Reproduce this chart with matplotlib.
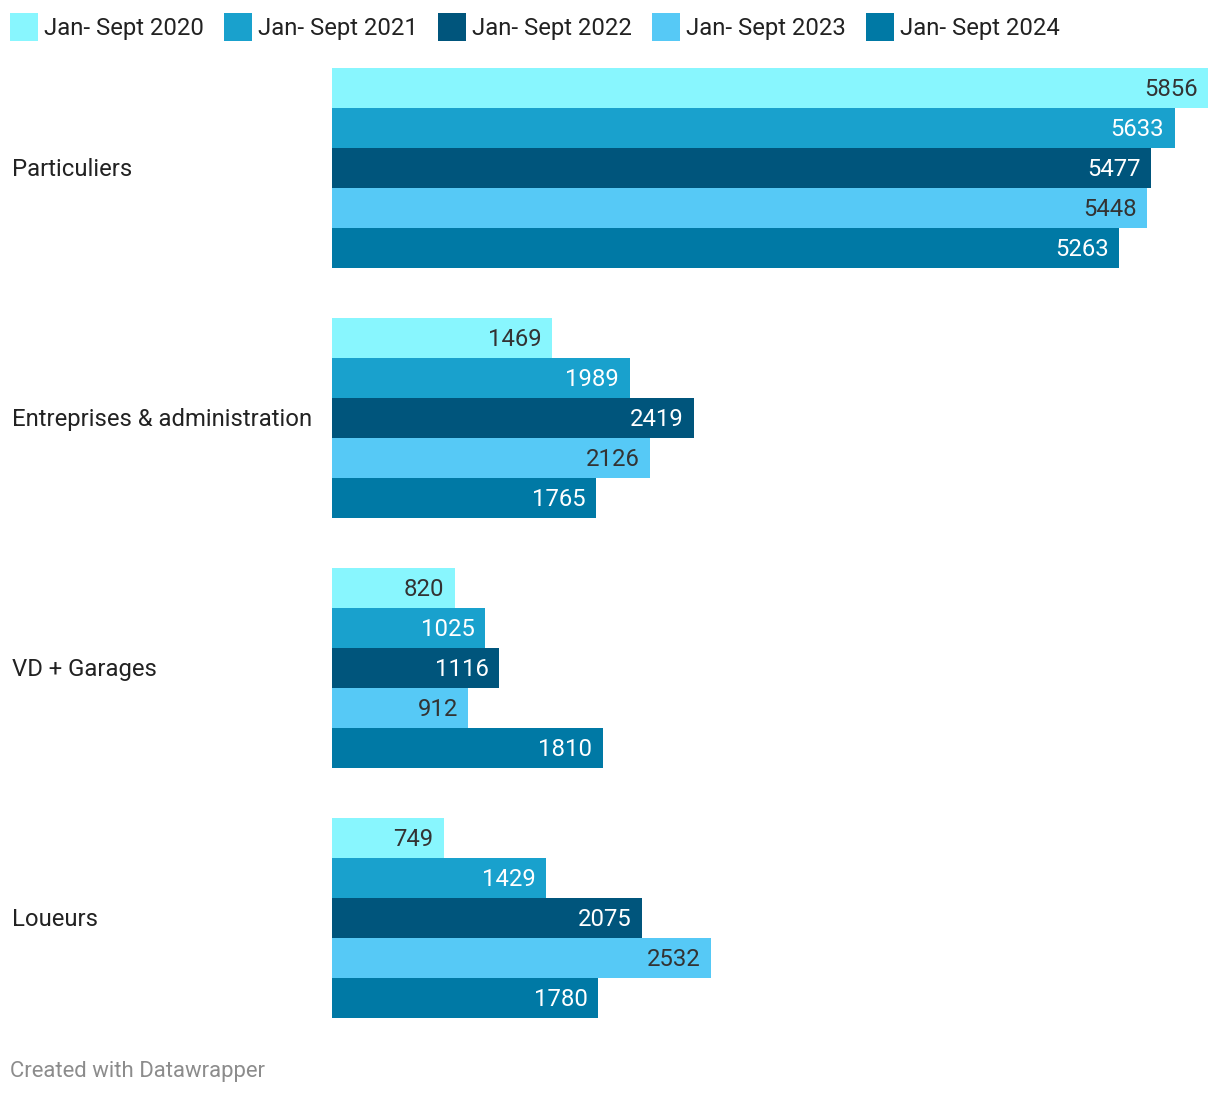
import matplotlib.pyplot as plt
import matplotlib.transforms as mtransforms
from matplotlib.patches import Rectangle

plt.rcParams['font.family'] = ['Roboto', 'DejaVu Sans']

categories = ['Particuliers', 'Entreprises & administration', 'VD + Garages', 'Loueurs']
series = ['Jan- Sept 2020', 'Jan- Sept 2021', 'Jan- Sept 2022', 'Jan- Sept 2023', 'Jan- Sept 2024']
values = {
    'Jan- Sept 2020': [5856, 1469, 820, 749],
    'Jan- Sept 2021': [5633, 1989, 1025, 1429],
    'Jan- Sept 2022': [5477, 2419, 1116, 2075],
    'Jan- Sept 2023': [5448, 2126, 912, 2532],
    'Jan- Sept 2024': [5263, 1765, 1810, 1780],
}
colors = ['#88f6fe', '#19a1cd', '#00557c', '#56c9f6', '#0079a5']
label_colors = ['#333333', '#ffffff', '#ffffff', '#333333', '#ffffff']

W, H = 1220, 1096
fig = plt.figure(figsize=(W / 100, H / 100), dpi=100, facecolor='white')

# axes placed in pixel terms: bars run from x=332 to 1208, y=68 to 1018
ax = fig.add_axes([332 / W, 1 - 1018 / H, (1208 - 332) / W, (1018 - 68) / H])
group_step = 6.25
n_series = len(series)

for j, s in enumerate(series):
    for i, v in enumerate(values[s]):
        y = i * group_step + j
        ax.barh(y, v, height=1.0, color=colors[j], linewidth=0)
        ax.text(v - 70, y + 0.03, f'{v}', ha='right', va='center',
                fontsize=17.2, color=label_colors[j])

ax.set_xlim(0, max(values['Jan- Sept 2020']))
ax.set_ylim(3 * group_step + n_series - 0.5, -0.5)
ax.axis('off')

# category labels on the left
trans = mtransforms.blended_transform_factory(fig.transFigure, ax.transData)
for i, cat in enumerate(categories):
    ax.text(12 / W, i * group_step + 2 + 0.03, cat, transform=trans,
            ha='left', va='center', fontsize=17.2, color='#222222')

# legend row
x0 = 10
for j, s in enumerate(series):
    xs = x0 + j * 214
    fig.patches.append(Rectangle((xs / W, 1 - 41 / H), 28 / W, 28 / H,
                                 transform=fig.transFigure, facecolor=colors[j],
                                 edgecolor='none'))
    fig.text((xs + 34) / W, 1 - 28 / H, s, ha='left', va='center',
             fontsize=17.2, color='#222222')

fig.text(10 / W, 1 - 1072 / H, 'Created with Datawrapper', ha='left', va='center',
         fontsize=15.9, color='#8c8c8c')

plt.savefig('out.png', dpi=100, facecolor='white')
